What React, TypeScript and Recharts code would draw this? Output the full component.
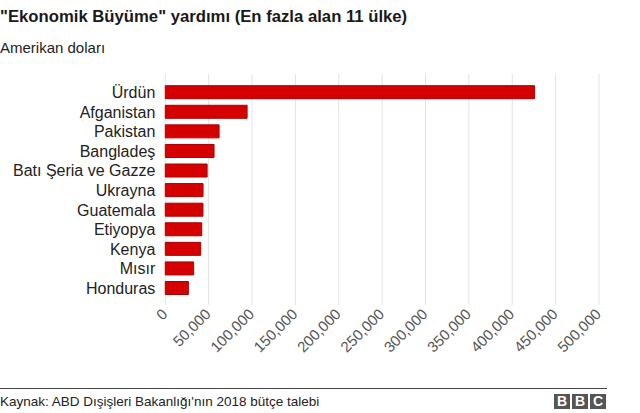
import { BarChart, Bar, XAxis, YAxis, CartesianGrid } from 'recharts'

const COUNTRIES = [
  'Ürdün', 'Afganistan', 'Pakistan', 'Bangladeş', 'Batı Şeria ve Gazze',
  'Ukrayna', 'Guatemala', 'Etiyopya', 'Kenya', 'Mısır', 'Honduras',
]
const AID = [425750, 94300, 62000, 56200, 48200, 43500, 43400, 42000, 40800, 32700, 26600]
const X_TICKS = [0, 50000, 100000, 150000, 200000, 250000, 300000, 350000, 400000, 450000, 500000]

const FONT = '"Liberation Sans", Arial, Helvetica, sans-serif'

const data = COUNTRIES.map((country, i) => ({ country, value: AID[i] }))

function AmountTick(props: any) {
  const { x, y, payload } = props
  return (
    <text
      transform={`translate(${x + 3},${y + 8}) rotate(-45)`}
      textAnchor="end"
      fontSize={15}
      fill="#555"
      fontFamily={FONT}
    >
      {Number(payload.value).toLocaleString('en-US')}
    </text>
  )
}

function BbcLogo() {
  return (
    <div style={{ position: 'absolute', left: 554, top: 394, display: 'flex', gap: 2 }}>
      {['B', 'B', 'C'].map((l, i) => (
        <div
          key={i}
          style={{
            width: 16, height: 15, background: '#555', color: '#fff',
            fontWeight: 'bold', fontSize: 14, lineHeight: '15px', textAlign: 'center',
            fontFamily: FONT,
          }}
        >
          {l}
        </div>
      ))}
    </div>
  )
}

export default function App() {
  return (
    <div style={{ position: 'absolute', left: 0, top: 0, width: 640, height: 413, background: '#fff', fontFamily: FONT, overflow: 'hidden' }}>
      <div style={{ position: 'absolute', left: 0, top: 8.6, fontSize: 16.7, fontWeight: 'bold', lineHeight: 1, color: '#1a1a1a', whiteSpace: 'nowrap' }}>
        "Ekonomik Büyüme" yardımı (En fazla alan 11 ülke)
      </div>
      <div style={{ position: 'absolute', left: 0, top: 40.3, fontSize: 15, lineHeight: 1, color: '#222', whiteSpace: 'nowrap' }}>
        Amerikan doları
      </div>

      <div style={{ position: 'absolute', left: 0, top: 0 }}>
        <BarChart
          width={640}
          height={413}
          data={data}
          layout="vertical"
          margin={{ top: 74, right: 41, bottom: 0, left: 0 }}
        >
          <CartesianGrid horizontal={false} stroke="#e3e3e3" />
          <XAxis
            type="number"
            domain={[0, 500000]}
            ticks={X_TICKS}
            interval={0}
            height={113}
            axisLine={false}
            tickLine={{ stroke: '#e3e3e3' }}
            tickSize={5}
            tick={<AmountTick />}
          />
          <YAxis
            type="category"
            dataKey="country"
            width={165.3}
            axisLine={false}
            tickLine={false}
            tickSize={6}
            tickMargin={4}
            interval={0}
            padding={{ top: 8.7, bottom: 1.9 }}
            tick={{ fontSize: 16, fill: '#222', fontFamily: FONT }}
          />
          <Bar dataKey="value" fill="#d50000" stroke="#a80000" strokeWidth={1} barSize={13} isAnimationActive={false} />
        </BarChart>
      </div>

      <div style={{ position: 'absolute', left: 0, top: 388, width: 607, height: 1, background: '#444' }} />
      <div style={{ position: 'absolute', left: 0, top: 395, fontSize: 13.5, lineHeight: 1, color: '#222', whiteSpace: 'nowrap' }}>
        Kaynak: ABD Dışişleri Bakanlığı'nın 2018 bütçe talebi
      </div>
      <BbcLogo />
    </div>
  )
}
